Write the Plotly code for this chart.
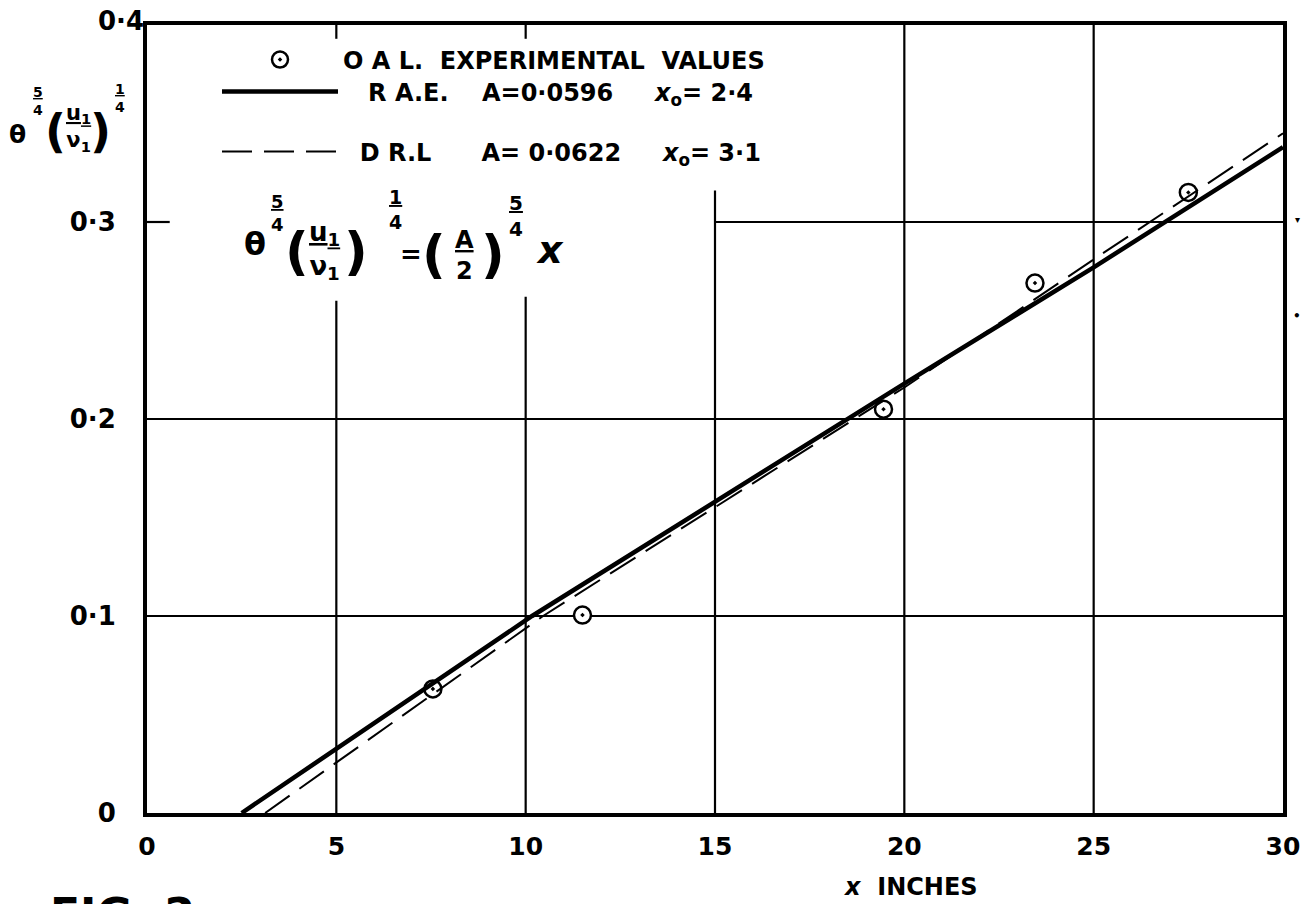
import plotly.graph_objects as go

# ---- data ----
exp_x = [7.55, 11.5, 19.45, 23.45, 27.5]
exp_y = [0.063, 0.1005, 0.205, 0.269, 0.315]

rae_x = [2.5, 10.17, 20.0, 25.0, 30.0]
rae_y = [0.0, 0.1, 0.218, 0.277, 0.338]

drl_x = [3.12, 10.46, 20.0, 25.0, 30.0]
drl_y = [0.0, 0.1, 0.216, 0.281, 0.345]

x_ticks = [0, 5, 10, 15, 20, 25, 30]
x_ticktext = ["0", "5", "10", "15", "20", "25", "30"]
y_ticks = [0, 0.1, 0.2, 0.3, 0.4]
y_ticktext = ["0", "0·1", "0·2", "0·3", "0·4"]

# grid segments (broken around the legend / formula, as in the drawing)
v_grid = [(5, 0.0, 0.26), (10, 0.0, 0.262), (15, 0.0, 0.316), (20, 0.0, 0.4), (25, 0.0, 0.4),
          (5, 0.393, 0.4), (10, 0.393, 0.4)]
h_grid = [(0.1, 0.0, 30.0), (0.2, 0.0, 30.0), (0.3, 15.0, 30.0), (0.3, 0.0, 0.6)]

FONT = "DejaVu Sans"
W, H = 1303, 904
PL, PR, PT, PB = 147, 1283, 25, 813   # plot-area pixel box


def px(x):
    return (x - PL) / (PR - PL)


def py(y):
    return (PB - y) / (PB - PT)


def cx(x):
    return x / W


def cy(y):
    return 1 - y / H


NB = "\u00a0"

fig = go.Figure()

fig.add_trace(go.Scatter(
    x=exp_x, y=exp_y, mode="markers",
    name="O A L.  EXPERIMENTAL  VALUES",
    marker=dict(symbol="circle-dot", size=17, color="white",
                line=dict(color="black", width=2.5)),
    legend="legend",
))
fig.add_trace(go.Scatter(
    x=rae_x, y=rae_y, mode="lines",
    name=NB * 3 + "R A.E." + NB * 4 + "A=0·0596" + NB * 5 + "<i>x</i><sub>o</sub>= 2·4",
    line=dict(color="black", width=4.5),
    legend="legend2",
))
fig.add_trace(go.Scatter(
    x=drl_x, y=drl_y, mode="lines",
    name=NB * 2 + "D R.L" + NB * 6 + "A= 0·0622" + NB * 5 + "<i>x</i><sub>o</sub>= 3·1",
    line=dict(color="black", width=2, dash="30px,12px"),
    legend="legend3",
))

shapes = []
for xv, y0, y1 in v_grid:
    shapes.append(dict(type="line", xref="x", yref="y", x0=xv, x1=xv, y0=y0, y1=y1,
                       line=dict(color="black", width=2.2), layer="below"))
for yv, x0, x1 in h_grid:
    shapes.append(dict(type="line", xref="x", yref="y", x0=x0, x1=x1, y0=yv, y1=yv,
                       line=dict(color="black", width=2.2), layer="below"))


def piece(text, x, y, size, bold=True, italic=False):
    return dict(xref="paper", yref="paper", x=px(x), y=py(y), xanchor="center", yanchor="middle",
                text=text, showarrow=False, align="center", borderpad=0,
                font=dict(family=FONT, size=size, color="black",
                          weight="bold" if bold else "normal",
                          style="italic" if italic else "normal"))


annotations = [
    # top y tick label, drawn tucked into the corner as in the drawing
    dict(xref="paper", yref="paper", x=px(146), y=py(21), xanchor="right", yanchor="middle",
         text=y_ticktext[-1], showarrow=False,
         font=dict(family=FONT, size=26, color="black", weight="bold")),
    # y-axis title  θ^(5/4) (u1/ν1)^(1/4)
    piece("θ", 17, 134, 25),
    piece("<u>5</u><br>4", 38, 101, 14),
    piece("(", 55, 131, 46),
    piece("<u>u<sub>1</sub></u><br>ν<sub>1</sub>", 78, 128, 21),
    piece(")", 100, 131, 46),
    piece("<u>1</u><br>4", 120, 98, 14),
    # formula  θ^(5/4) (u1/ν1)^(1/4) = (A/2)^(5/4) x
    piece("θ", 255, 244, 32),
    piece("<u>5</u><br>4", 277, 213, 18),
    piece("(", 297, 251, 52),
    piece("<u>u<sub>1</sub></u><br>ν<sub>1</sub>", 324, 250, 26),
    piece(")", 356, 251, 52),
    piece("<u>1</u><br>4", 395, 210, 19),
    piece("=", 411, 254, 26),
    piece("(", 434, 254, 52),
    piece("<u>A</u><br>2", 464, 256, 24),
    piece(")", 493, 254, 52),
    piece("<u>5</u><br>4", 516, 216, 20),
    piece("x", 550, 250, 38, italic=True),
    # x-axis title
    dict(xref="paper", yref="paper", x=px(842), y=py(887), xanchor="left", yanchor="middle",
         text="<i>x</i>  INCHES", showarrow=False,
         font=dict(family=FONT, size=24, color="black", weight="bold")),
    # figure caption, cut off at the page bottom as in the scan
    dict(xref="paper", yref="paper", x=px(48), y=py(887), xanchor="left", yanchor="top",
         text="FIG. 2", showarrow=False,
         font=dict(family=FONT, size=44, color="black", weight="bold")),
    # stray scan marks right of the frame
    piece("▾", 1297, 219, 10),
    piece("•", 1297, 316, 12),
]

legend_common = dict(xref="container", yref="container", xanchor="left", yanchor="middle",
                     bgcolor="rgba(0,0,0,0)", itemwidth=116,
                     font=dict(family=FONT, size=24, color="black", weight="bold"))

fig.update_layout(
    width=W, height=H,
    paper_bgcolor="white", plot_bgcolor="white",
    margin=dict(l=PL, r=W - PR, t=PT, b=H - PB, autoexpand=False),
    font=dict(family=FONT, size=20, color="black"),
    shapes=shapes, annotations=annotations,
    showlegend=True,
    legend=dict(x=cx(217), y=cy(60), **legend_common),
    legend2=dict(x=cx(217), y=cy(92), **legend_common),
    legend3=dict(x=cx(217), y=cy(152), **legend_common),
)

fig.update_xaxes(range=[0, 30], tickvals=x_ticks, ticktext=x_ticktext,
                 showgrid=False, zeroline=False, showline=True, mirror=True,
                 linecolor="black", linewidth=4, ticks="", ticklabelstandoff=8,
                 tickfont=dict(family=FONT, size=25, color="black", weight="bold"))
fig.update_yaxes(range=[0, 0.4], tickvals=y_ticks[:-1], ticktext=y_ticktext[:-1],
                 showgrid=False, zeroline=False, showline=True, mirror=True,
                 linecolor="black", linewidth=4, ticks="", ticklabelstandoff=22,
                 tickfont=dict(family=FONT, size=26, color="black", weight="bold"))

fig.write_html("out.html", config={"displayModeBar": False},
               post_script="document.body.style.margin='0px';")
